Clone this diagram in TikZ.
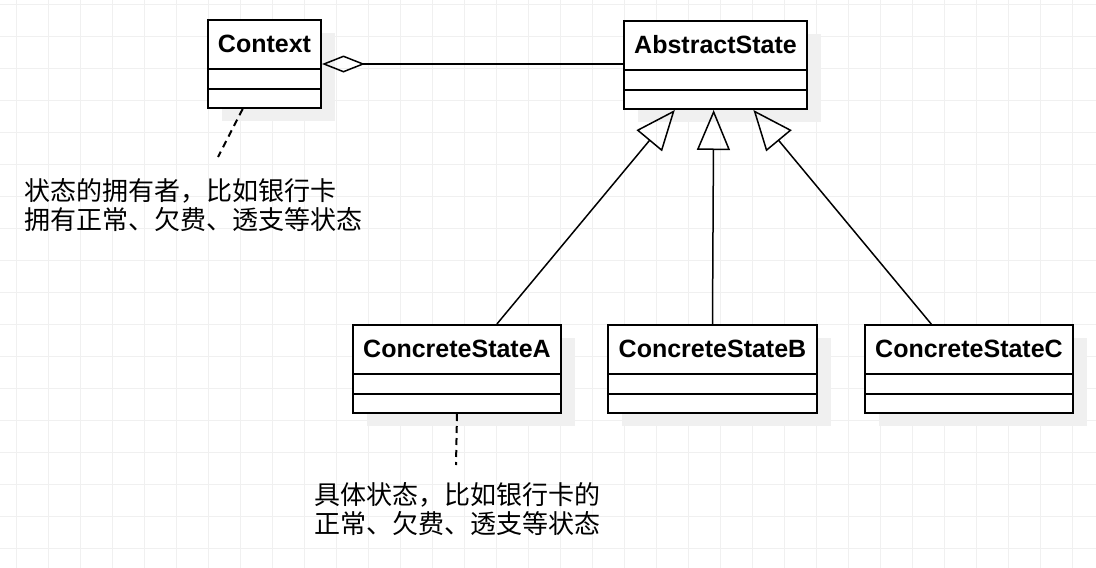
\documentclass[tikz,border=0pt]{standalone}
\usepackage{fontspec}
\setmainfont{Liberation Sans}
\newfontfamily\cjk{Noto Sans CJK SC}
\usetikzlibrary{arrows.meta,calc}

\tikzset{
  gridline/.style={draw=black!6, line width=1pt},
  clsbox/.style={draw, line width=2pt, fill=white, anchor=north west,
    minimum height=88pt, inner sep=0pt},
  clsshadow/.style={fill=black!6},
  clstitle/.style={font=\bfseries\fontsize{25pt}{30pt}\selectfont},
  notetext/.style={font=\cjk\fontsize{26pt}{29pt}\selectfont, align=left,
    anchor=west, inner sep=0pt},
  link/.style={line width=1.5pt},
  notelink/.style={line width=2pt, dash pattern=on 7pt off 5pt},
  inherit/.style={link, -{Triangle[open, length=40pt, width=33pt]}},
}

\begin{document}
\begin{tikzpicture}[x=1pt,y=-1pt]
  \useasboundingbox[fill=white] (0,0) rectangle (1096,568);
  % grid
  \foreach \gx in {16,48,...,1096} \draw[gridline] (\gx,0) -- (\gx,568);
  \foreach \gy in {4,36,...,568} \draw[gridline] (0,\gy) -- (1096,\gy);
  % classes
  \foreach \nm/\px/\py/\bw/\txt in {ctx/207/19/113/Context,
      abs/623/20/183/AbstractState, ca/352/324/208/ConcreteStateA,
      cb/607/324/209/ConcreteStateB, cc/864/324/208/ConcreteStateC}
   {
    \fill[clsshadow] (\px+15,\py+14) rectangle ++(\bw,88);
    \node[clsbox, minimum width=\bw pt] (\nm) at (\px,\py) {};
    \draw[line width=2pt] ($(\nm.north west)+(0,50)$) -- ++(\bw,0)
                          ($(\nm.north west)+(0,70)$) -- ++(\bw,0);
    \node[clstitle] at ($(\nm.north)+(0,25)$) {\txt};
   }
  % aggregation
  \draw[link, {Diamond[open, length=43pt, width=17pt]}-] (ctx.east) -- (ctx.east -| abs.west);
  % inheritance
  \draw[inherit] ($(ca.north west)!0.69!(ca.north east)$) -- ($(abs.south west)!0.28!(abs.south east)$);
  \draw[inherit] ($(cb.north west)!0.5!(cb.north east)$) -- ($(abs.south west)!0.49!(abs.south east)$);
  \draw[inherit] ($(cc.north west)!0.32!(cc.north east)$) -- ($(abs.south west)!0.705!(abs.south east)$);
  % notes
  \node[notetext] (note1) at (24,205) {状态的拥有者，比如银行卡\\拥有正常、欠费、透支等状态};
  \node[notetext] (note2) at (314,509) {具体状态，比如银行卡的\\正常、欠费、透支等状态};
  \coordinate (n1end) at (218,157);
  \coordinate (n2end) at (456,465);
  \draw[notelink] ($(ctx.south west)!0.31!(ctx.south east)$) -- (n1end);
  \draw[notelink] (ca.south) -- (n2end);
\end{tikzpicture}
\end{document}
